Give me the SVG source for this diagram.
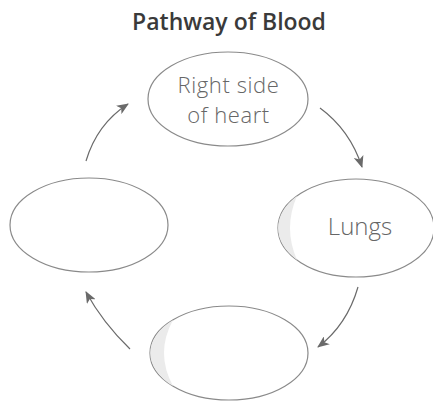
<svg xmlns="http://www.w3.org/2000/svg" width="433" height="401" viewBox="0 0 433 401">
<style>
.node ellipse{fill:#fff;stroke:#8a8a8a;stroke-width:1.2}
.shade{fill:#ebebeb;stroke:none}
.lbl{font-family:"Open Sans","Liberation Sans",sans-serif;font-weight:300;font-size:24px;fill:#666;text-anchor:middle}
.lbl2{font-family:"Open Sans","Liberation Sans",sans-serif;font-weight:300;font-size:22px;letter-spacing:0.6px;fill:#666;text-anchor:middle}
.title{font-family:"Open Sans","Liberation Sans",sans-serif;font-weight:600;font-size:23px;fill:#3a3a3a;text-anchor:middle}
.conn path{fill:none;stroke:#6a6a6a;stroke-width:1.2;marker-end:url(#ah)}
</style>
<defs>
<marker id="ah" viewBox="0 0 12 10" refX="11" refY="5" markerWidth="12" markerHeight="10" markerUnits="userSpaceOnUse" orient="auto">
<path d="M0,0 L12,5 L0,10 L3,5 Z" fill="#6a6a6a"/>
</marker>
</defs>
<rect width="433" height="401" fill="#fff"/>
<text class="title" x="229" y="30">Pathway of Blood</text>
<g id="node-right-heart" class="node">
<ellipse cx="228" cy="99" rx="80" ry="47"/>
<text class="lbl2" x="228.5" y="92.5">Right side</text>
<text class="lbl2" x="228.5" y="123">of heart</text>
</g>
<g id="node-lungs" class="node">
<ellipse cx="356" cy="228" rx="78" ry="49"/>
<path class="shade" d="M297,196 A78,49 0 0,0 297,260 Q283,228 297,196 Z"/>
<text class="lbl" x="360" y="235">Lungs</text>
</g>
<g id="node-bottom" class="node">
<ellipse cx="229" cy="353" rx="79" ry="47"/>
<path class="shade" d="M173,320 A79,47 0 0,0 173,386 Q155,353 173,320 Z"/>
</g>
<g id="node-left" class="node">
<ellipse cx="89" cy="225" rx="79" ry="47"/>
</g>
<g id="connectors" class="conn">
<path d="M86,161 Q97,124 128,104"/>
<path d="M320,108 Q350,130 362,167"/>
<path d="M358,287 Q347,325 318,347"/>
<path d="M130,349 Q103,323 86,292"/>
</g>
</svg>
